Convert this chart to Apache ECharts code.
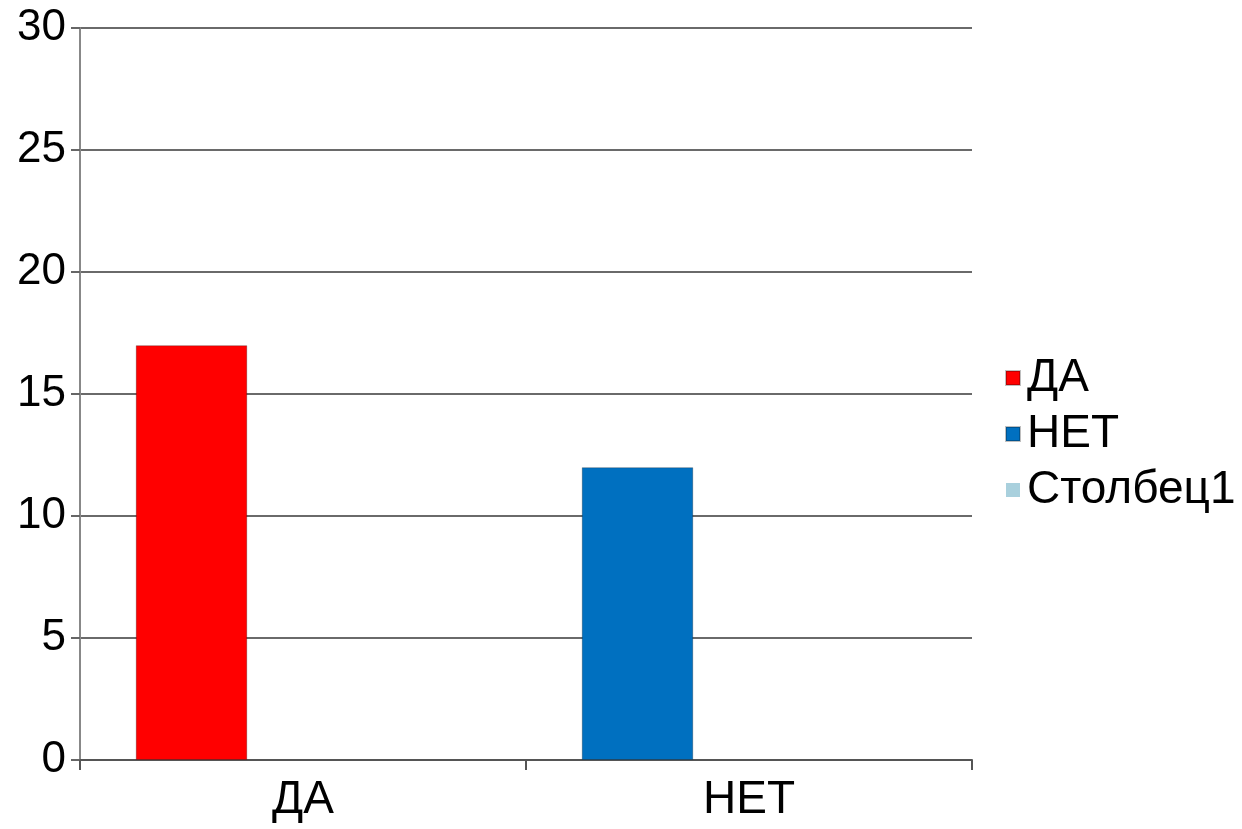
<!DOCTYPE html>
<html>
<head>
<meta charset="utf-8">
<script src="https://cdn.jsdelivr.net/npm/echarts@6/dist/echarts.min.js"></script>
<style>
  html, body { margin: 0; padding: 0; background: #fff; }
  #chart { width: 1242px; height: 829px; }
</style>
</head>
<body>
<div id="chart"></div>
<script>
var categories = ['ДА', 'НЕТ'];
var daValues = [17, '-'];
var netValues = ['-', 12];
var stolbecValues = ['-', '-'];

var colors = ['#ff0000', '#0070c0', '#a9d0dd'];
var fontFam = '"Liberation Sans", Arial, sans-serif';

var chart = echarts.init(document.getElementById('chart'));
chart.setOption({
  animation: false,
  backgroundColor: '#fff',
  color: colors,
  grid: { left: 80, right: 270, top: 28, bottom: 69, containLabel: false },
  legend: {
    orient: 'vertical',
    left: 1000, top: 350,
    icon: 'rect',
    itemWidth: 14, itemHeight: 14,
    itemGap: 10,
    textStyle: { fontFamily: fontFam, fontSize: 46, color: '#000', padding: [0, 0, 0, 2] },
    data: ['ДА', 'НЕТ', 'Столбец1']
  },
  xAxis: {
    type: 'category',
    data: categories,
    axisLine: { lineStyle: { color: '#555', width: 2 } },
    axisTick: { show: true, length: 10, lineStyle: { color: '#555', width: 2 } },
    axisLabel: { fontFamily: fontFam, fontSize: 46, color: '#000', margin: 17 },
    splitLine: { show: false }
  },
  yAxis: {
    type: 'value',
    min: 0, max: 30, interval: 5,
    axisLine: { show: true, lineStyle: { color: '#888', width: 2 } },
    axisTick: { show: true, length: 9, lineStyle: { color: '#666', width: 2 } },
    axisLabel: { fontFamily: fontFam, fontSize: 44, color: '#000', margin: 14 },
    splitLine: { show: true, lineStyle: { color: '#6a6a6a', width: 2 } }
  },
  series: [
    {
      name: 'ДА', type: 'bar', stack: 'a',
      barCategoryGap: '25%', barGap: '100%',
      itemStyle: { color: colors[0], borderColor: 'rgba(0,0,0,0.25)', borderWidth: 1 },
      data: daValues
    },
    {
      name: 'НЕТ', type: 'bar', stack: 'a',
      itemStyle: { color: colors[1], borderColor: 'rgba(0,0,0,0.25)', borderWidth: 1 },
      data: netValues
    },
    {
      name: 'Столбец1', type: 'bar', stack: 'b',
      itemStyle: { color: colors[2] },
      data: stolbecValues
    }
  ]
});
</script>
</body>
</html>
